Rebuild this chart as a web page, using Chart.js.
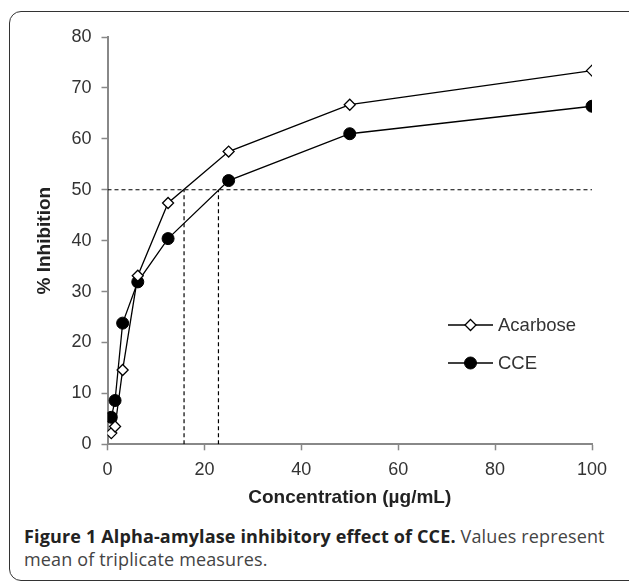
<!DOCTYPE html>
<html>
<head>
<meta charset="utf-8">
<script src="https://cdn.jsdelivr.net/npm/chart.js@4.4.0/dist/chart.umd.min.js"></script>
<style>
  body { margin: 0; background: #fff; width: 629px; height: 582px; overflow: hidden; position: relative; }
  #frame {
    position: absolute; left: 9px; top: 11px; width: 640px; height: 568px;
    border: 1.5px solid #333; border-radius: 12px;
  }
  #chartBox { position: absolute; left: 0; top: 0; width: 629px; height: 510px; }
  #caption {
    position: absolute; left: 24px; top: 525px; width: 605px; white-space: nowrap;
    font-family: "Open Sans", sans-serif; font-size: 18px; letter-spacing: 0.15px;
    line-height: 23px; color: #444;
  }
  #caption b { color: #222; }
</style>
</head>
<body>
<div id="frame"></div>
<div id="chartBox"><canvas id="amylaseChart" width="629" height="510"></canvas></div>
<div id="caption"><b>Figure 1 Alpha-amylase inhibitory effect of CCE.</b> Values represent<br>mean of triplicate measures.</div>
<script>
// concentrations (µg/mL)
const conc = [0.78, 1.56, 3.125, 6.25, 12.5, 25, 50, 100];
// % inhibition
const acarbose = [2.2, 3.5, 14.6, 33.1, 47.4, 57.5, 66.7, 73.4];
const cce = [5.3, 8.6, 23.8, 31.9, 40.4, 51.8, 61.0, 66.4];
// IC50 guide lines
const ic50Level = 50;
const ic50Acarbose = 15.8;
const ic50Cce = 22.9;

const xTicks = [0, 20, 40, 60, 80, 100];
const yTicks = [0, 10, 20, 30, 40, 50, 60, 70, 80];

const toXY = (xs, ys) => xs.map((x, i) => ({ x: x, y: ys[i] }));

const dashed = {
  borderColor: '#000',
  borderWidth: 1.2,
  borderDash: [4, 3],
  pointRadius: 0,
  fill: false
};

// legend drawn inside the plot area
const innerLegend = {
  id: 'innerLegend',
  afterDatasetsDraw(chart, args, opts) {
    const c = chart.ctx;
    c.save();
    opts.items.forEach((item, i) => {
      const ds = chart.data.datasets[i];
      const y = opts.y + i * opts.gap;
      c.strokeStyle = '#000';
      c.lineWidth = 1.3;
      c.beginPath();
      c.moveTo(opts.x, y);
      c.lineTo(opts.x + opts.lineLen, y);
      c.stroke();
      const mx = opts.x + opts.lineLen / 2;
      c.fillStyle = ds.pointBackgroundColor;
      c.beginPath();
      if (ds.pointStyle === 'rectRot') {
        const r = ds.pointRadius;
        c.moveTo(mx, y - r); c.lineTo(mx + r, y); c.lineTo(mx, y + r); c.lineTo(mx - r, y);
        c.closePath();
      } else {
        c.arc(mx, y, ds.pointRadius, 0, Math.PI * 2);
      }
      c.fill();
      c.lineWidth = ds.pointBorderWidth;
      c.strokeStyle = ds.pointBorderColor;
      c.stroke();
      c.fillStyle = '#333';
      c.font = '18.5px "Liberation Sans", Arial, sans-serif';
      c.textBaseline = 'middle';
      c.fillText(ds.label, opts.x + opts.lineLen + 5, y + 1);
    });
    c.restore();
  }
};

const ctx = document.getElementById('amylaseChart').getContext('2d');

const amylaseChart = new Chart(ctx, {
  type: 'scatter',
  data: {
    datasets: [{
      label: 'Acarbose',
      data: toXY(conc, acarbose),
      showLine: true,
      borderColor: '#000',
      borderWidth: 1.3,
      pointStyle: 'rectRot',
      pointRadius: 5.5,
      pointBackgroundColor: '#fff',
      pointBorderColor: '#000',
      pointBorderWidth: 1.3
    }, {
      label: 'CCE',
      data: toXY(conc, cce),
      showLine: true,
      borderColor: '#000',
      borderWidth: 1.3,
      pointStyle: 'circle',
      pointRadius: 6,
      pointBackgroundColor: '#000',
      pointBorderColor: '#000',
      pointBorderWidth: 1
    }, {
      ...dashed,
      label: 'ic50 level',
      showLine: true,
      data: [{ x: 0, y: ic50Level }, { x: 100, y: ic50Level }]
    }, {
      ...dashed,
      label: 'ic50 acarbose',
      showLine: true,
      data: [{ x: ic50Acarbose, y: 0 }, { x: ic50Acarbose, y: ic50Level }]
    }, {
      ...dashed,
      label: 'ic50 cce',
      showLine: true,
      data: [{ x: ic50Cce, y: 0 }, { x: ic50Cce, y: ic50Level }]
    }]
  },
  options: {
    animation: false,
    responsive: false,
    devicePixelRatio: 1,
    layout: {
      padding: { top: 37, right: 37, left: 0, bottom: 0 }
    },
    plugins: {
      legend: { display: false },
      tooltip: { enabled: false },
      innerLegend: { x: 448, y: 325, gap: 38, lineLen: 45, items: [0, 1] }
    },
    scales: {
      x: {
        type: 'linear',
        min: 0,
        max: 100,
        afterFit: (s) => { s.height = 65.7; },
        afterBuildTicks: (s) => { s.ticks = xTicks.map(v => ({ value: v })); },
        ticks: {
          color: '#333',
          padding: 9,
          font: { family: '"Liberation Sans", Arial, sans-serif', size: 18 }
        },
        grid: { drawOnChartArea: false, tickLength: 6, tickColor: '#888', tickWidth: 1.5 },
        border: { color: '#888', width: 2 },
        title: {
          display: true,
          text: 'Concentration (µg/mL)',
          color: '#222',
          padding: { top: 0, bottom: 1 },
          font: { family: '"Liberation Sans", Arial, sans-serif', size: 19, weight: 'bold' }
        }
      },
      y: {
        min: 0,
        max: 80,
        afterFit: (s) => { s.width = 107.5; },
        afterBuildTicks: (s) => { s.ticks = yTicks.map(v => ({ value: v })); },
        ticks: {
          color: '#333',
          padding: 10,
          font: { family: '"Liberation Sans", Arial, sans-serif', size: 18 }
        },
        grid: { drawOnChartArea: false, tickLength: 6, tickColor: '#888', tickWidth: 1.5 },
        border: { color: '#888', width: 2 },
        title: {
          display: true,
          text: '% Inhibition',
          color: '#222',
          padding: { top: 33, bottom: 0 },
          font: { family: '"Liberation Sans", Arial, sans-serif', size: 19, weight: 'bold' }
        }
      }
    }
  },
  plugins: [innerLegend]
});
</script>
</body>
</html>
